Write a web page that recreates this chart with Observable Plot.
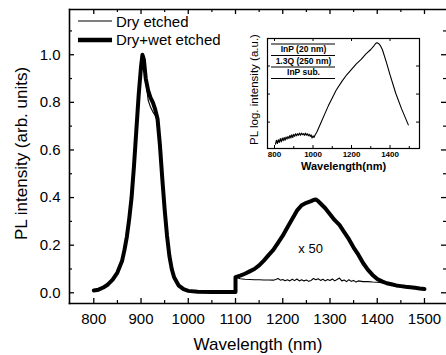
<!DOCTYPE html>
<html>
<head>
<meta charset="utf-8">
<script src="https://cdn.jsdelivr.net/npm/d3@7"></script>
<script src="https://cdn.jsdelivr.net/npm/@observablehq/plot@0.6"></script>
<style>
  html, body { margin: 0; padding: 0; background: #fff; }
  #wrap { position: relative; width: 446px; height: 355px; overflow: hidden; font-family: "Liberation Sans", Arial, sans-serif; }
  #wrap > * { position: absolute; }
  .row { display: flex; align-items: center; height: 18.5px; font-size: 15px; color: #000; white-space: nowrap; }
  .row svg { margin-right: 3px; }
</style>
</head>
<body>
<div id="wrap"></div>
<script>
// ---------- data ----------
const xTitle = "Wavelength (nm)";
const yTitle = "PL intensity (arb. units)";
const xTicks = [800, 900, 1000, 1100, 1200, 1300, 1400, 1500];
const xMinor = [850, 950, 1050, 1150, 1250, 1350, 1450];
const yTicks = [0.0, 0.2, 0.4, 0.6, 0.8, 1.0];
const yMinor = [0.1, 0.3, 0.5, 0.7, 0.9, 1.1];

const seriesNames = ["Dry etched", "Dry+wet etched"];

// Dry+wet etched (thick)
const wetWl = [800, 810, 820, 830, 840, 850, 860, 865, 870, 875, 880, 885, 890, 895, 900, 903, 906, 910, 915, 920, 925, 930, 935, 940, 945, 950, 955, 960, 965, 970, 980, 990, 1000, 1020, 1050, 1080, 1100,
  1100, 1110, 1120, 1130, 1140, 1150, 1160, 1170, 1180, 1190, 1200, 1210, 1220, 1230, 1240, 1250, 1260, 1265, 1270, 1275, 1280, 1290, 1300, 1310, 1320, 1330, 1340, 1350, 1360, 1370, 1380, 1390, 1400, 1410, 1420, 1430, 1440, 1450, 1460, 1470, 1480, 1490, 1500];
const wetPL = [0.010, 0.013, 0.022, 0.035, 0.055, 0.085, 0.135, 0.18, 0.235, 0.31, 0.40, 0.53, 0.68, 0.83, 0.95, 1.00, 0.98, 0.90, 0.85, 0.82, 0.80, 0.77, 0.73, 0.62, 0.48, 0.35, 0.24, 0.155, 0.10, 0.065, 0.03, 0.015, 0.008, 0.004, 0.003, 0.003, 0.003,
  0.066, 0.072, 0.080, 0.090, 0.100, 0.115, 0.135, 0.158, 0.180, 0.210, 0.240, 0.275, 0.310, 0.345, 0.368, 0.378, 0.385, 0.390, 0.392, 0.385, 0.375, 0.355, 0.330, 0.305, 0.285, 0.255, 0.225, 0.190, 0.160, 0.125, 0.097, 0.075, 0.058, 0.048, 0.040, 0.036, 0.031, 0.028, 0.025, 0.023, 0.021, 0.018, 0.016];

// Dry etched (thin)
const dryWl = [800, 810, 820, 830, 840, 850, 860, 865, 870, 875, 880, 885, 890, 895, 900, 903, 906, 910, 915, 920, 925, 930, 935, 940, 945, 950, 955, 960, 965, 970, 980, 990, 1000, 1020, 1050, 1080, 1100,
  1100, 1105, 1110, 1120, 1130, 1140, 1150, 1160, 1170, 1180, 1185, 1190, 1195, 1200, 1205, 1210, 1215, 1220, 1225, 1230, 1235, 1240, 1245, 1250, 1255, 1260, 1265, 1270, 1275, 1280, 1285, 1290, 1295, 1300, 1305, 1310, 1315, 1320, 1325, 1330, 1335, 1340, 1345, 1350, 1355, 1360, 1370, 1380, 1390, 1400, 1410, 1420, 1430, 1440, 1450, 1460, 1470, 1480, 1490, 1500];
const dryPL = [0.010, 0.013, 0.022, 0.035, 0.055, 0.085, 0.135, 0.18, 0.235, 0.31, 0.40, 0.53, 0.68, 0.83, 0.95, 1.00, 0.98, 0.89, 0.81, 0.78, 0.76, 0.745, 0.72, 0.62, 0.48, 0.35, 0.24, 0.155, 0.10, 0.065, 0.03, 0.015, 0.008, 0.004, 0.003, 0.003, 0.003,
  0.066, 0.062, 0.059, 0.057, 0.056, 0.055, 0.055, 0.054, 0.054, 0.053, 0.056, 0.060, 0.053, 0.056, 0.051, 0.055, 0.050, 0.057, 0.051, 0.058, 0.050, 0.055, 0.050, 0.054, 0.048, 0.052, 0.060, 0.055, 0.059, 0.052, 0.057, 0.050, 0.056, 0.052, 0.058, 0.050, 0.056, 0.062, 0.050, 0.054, 0.047, 0.055, 0.048, 0.052, 0.045, 0.050, 0.047, 0.047, 0.045, 0.044, 0.042, 0.040, 0.036, 0.031, 0.028, 0.025, 0.023, 0.021, 0.018, 0.016];

const notes = [{wl: 1259, pl: 0.186, text: "x 50"}];

// Inset
const insetXTitle = "Wavelength(nm)";
const insetYTitle = "PL log. intensity (a.u.)";
const insetXTicks = [800, 1000, 1200, 1400];
const insetXMinor = [900, 1100, 1300, 1500];
const insetYTicks = [0.24, 0.495, 0.75];
const insetWl = [805, 810, 815, 820, 825, 830, 835, 840, 845, 850, 855, 860, 865, 870, 875, 880, 885, 890, 895, 900, 905, 910, 915, 920, 925, 930, 935, 940, 945, 950, 955, 960, 965, 970, 975, 980, 985, 990, 995, 1000, 1005, 1010,
  1020, 1040, 1060, 1080, 1100, 1120, 1150, 1175, 1200, 1225, 1250, 1275, 1300, 1315, 1325, 1332, 1340, 1350, 1360, 1380, 1400, 1430, 1460, 1495];
const insetPL = [0.04, 0.075, 0.045, 0.08, 0.055, 0.09, 0.06, 0.095, 0.07, 0.10, 0.075, 0.105, 0.085, 0.11, 0.09, 0.12, 0.095, 0.125, 0.10, 0.13, 0.11, 0.135, 0.115, 0.135, 0.12, 0.14, 0.12, 0.14, 0.125, 0.135, 0.12, 0.14, 0.12, 0.135, 0.115, 0.13, 0.11, 0.125, 0.095, 0.115, 0.10, 0.12,
  0.15, 0.23, 0.31, 0.39, 0.46, 0.53, 0.61, 0.67, 0.72, 0.77, 0.81, 0.86, 0.90, 0.93, 0.955, 0.962, 0.955, 0.935, 0.90, 0.79, 0.67, 0.50, 0.36, 0.215];

const layers = ["InP (20 nm)", "1.3Q (250 nm)", "InP sub."];
const layerBounds = [0, 1, 2, 3];

// ---------- build ----------
const FONT = '"Liberation Sans", Arial, sans-serif';
const wet = wetWl.map((w, i) => ({wl: w, pl: wetPL[i]}));
const dry = dryWl.map((w, i) => ({wl: w, pl: dryPL[i]}));
const inset = insetWl.map((w, i) => ({wl: w, pl: insetPL[i]}));

const W = 446, H = 355, mL = 69, mR = 0, mT = 9, mB = 52;
const fW = W - mL - mR, fH = H - mT - mB;

const main = Plot.plot({
  width: W, height: H,
  marginLeft: mL, marginRight: mR, marginTop: mT, marginBottom: mB,
  x: {domain: [748.6, 1546.6]},
  y: {domain: [-0.045, 1.19]},
  style: {fontFamily: FONT, fontSize: "15px", color: "#000", background: "#fff"},
  marks: [
    Plot.frame({anchor: "left", strokeWidth: 1.6}),
    Plot.frame({anchor: "bottom", strokeWidth: 1.6}),
    Plot.frame({anchor: "top", strokeWidth: 1.3}),
    Plot.axisX({ticks: xTicks, tickSize: 0, tickPadding: 10, tickFormat: d => String(d), label: null, fontSize: 15}),
    Plot.axisY({ticks: yTicks, tickSize: 0, tickPadding: 9, tickFormat: d => d.toFixed(1), label: null, fontSize: 15}),
    // inward ticks
    Plot.ruleX(xTicks, {x: d => d, insetTop: fH - 5, strokeWidth: 1.3}),
    Plot.ruleX(xMinor, {x: d => d, insetTop: fH - 3, strokeWidth: 1.2}),
    Plot.ruleX(xTicks, {x: d => d, insetBottom: fH - 5, strokeWidth: 1.3}),
    Plot.ruleX(xMinor, {x: d => d, insetBottom: fH - 3, strokeWidth: 1.2}),
    Plot.ruleY(yTicks, {y: d => d, insetRight: fW - 5, strokeWidth: 1.3}),
    Plot.ruleY(yMinor, {y: d => d, insetRight: fW - 3, strokeWidth: 1.2}),
    Plot.ruleY(yTicks, {y: d => d, insetLeft: fW - 5, strokeWidth: 1.3}),
    Plot.ruleY(yMinor, {y: d => d, insetLeft: fW - 3, strokeWidth: 1.2}),
    // data
    Plot.line(wet, {x: "wl", y: "pl", stroke: "#000", strokeWidth: 4, strokeLinejoin: "round"}),
    Plot.line(dry, {x: "wl", y: "pl", stroke: "#000", strokeWidth: 1.1}),
    Plot.text(notes, {x: "wl", y: "pl", text: "text", fontSize: 13}),
    // titles
    Plot.text([xTitle], {text: d => d, frameAnchor: "bottom", dy: 46, fontSize: 17}),
    Plot.text([yTitle], {text: d => d, frameAnchor: "left", textAnchor: "middle", dx: -48, dy: -3, rotate: -90, fontSize: 17})
  ]
});
main.style.left = "0px"; main.style.top = "0px";

const iL = 230, iT = 25, iW = 200, iH = 150, imL = 37, imR = 11, imT = 13, imB = 27;
const ifW = iW - imL - imR, ifH = iH - imT - imB;
const insetPlot = Plot.plot({
  width: iW, height: iH,
  marginLeft: imL, marginRight: imR, marginTop: imT, marginBottom: imB,
  x: {domain: [763.6, 1553]},
  y: {domain: [0, 1], axis: null},
  style: {fontFamily: FONT, fontSize: "8px", color: "#000", background: "transparent", overflow: "visible"},
  marks: [
    Plot.frame({strokeWidth: 1.2}),
    Plot.axisX({ticks: insetXTicks, tickSize: 0, tickPadding: 3, tickFormat: d => String(d), label: null, fontSize: 8, fontWeight: "bold"}),
    Plot.ruleX(insetXTicks, {x: d => d, insetTop: ifH - 3}),
    Plot.ruleX(insetXMinor, {x: d => d, insetTop: ifH - 2}),
    Plot.ruleX(insetXTicks, {x: d => d, insetBottom: ifH - 3}),
    Plot.ruleY(insetYTicks, {y: d => d, insetRight: ifW - 3}),
    Plot.ruleY(insetYTicks, {y: d => d, insetLeft: ifW - 3}),
    Plot.line(inset, {x: "wl", y: "pl", stroke: "#000", strokeWidth: 1.1}),
    Plot.text([insetXTitle], {text: d => d, frameAnchor: "bottom", dy: 21.5, fontSize: 11, fontWeight: "bold"}),
    Plot.text([insetYTitle], {text: d => d, frameAnchor: "left", textAnchor: "middle", dx: -13, dy: -4, rotate: -90, fontSize: 11.5})
  ]
});
insetPlot.style.left = iL + "px"; insetPlot.style.top = iT + "px";

const layerPlot = Plot.plot({
  width: 66, height: 38,
  marginLeft: 1, marginRight: 1, marginTop: 1.5, marginBottom: 2,
  x: {domain: [0, 1], axis: null},
  y: {domain: [0, 3], reverse: true, axis: null},
  style: {fontFamily: FONT, background: "transparent", color: "#000"},
  marks: [
    Plot.ruleY(layerBounds, {y: d => d, strokeWidth: 1.2}),
    Plot.text(layers, {y: (d, i) => i + 0.5, text: d => d, fontSize: 8.5, fontWeight: "bold"})
  ]
});
layerPlot.style.left = "270px"; layerPlot.style.top = "42px";

const legend = document.createElement("div");
legend.style.left = "77px"; legend.style.top = "12px";
const legendWidths = [1.1, 4.5];
seriesNames.forEach((name, i) => {
  const row = document.createElement("div");
  row.className = "row";
  row.innerHTML = `<svg width="36" height="10"><line x1="1" x2="35" y1="5" y2="5" stroke="#000" stroke-width="${legendWidths[i]}"/></svg><span>${name}</span>`;
  legend.appendChild(row);
});

const wrap = document.getElementById("wrap");
wrap.appendChild(main);
wrap.appendChild(insetPlot);
wrap.appendChild(layerPlot);
wrap.appendChild(legend);
</script>
</body>
</html>
